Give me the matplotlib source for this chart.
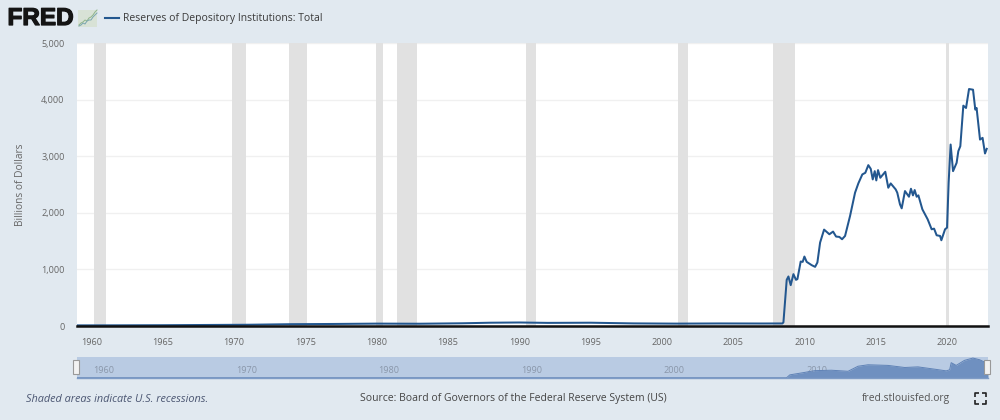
#!/usr/bin/env python
# -*- coding: utf-8 -*-
import matplotlib
matplotlib.use('Agg')
import matplotlib.pyplot as plt
import matplotlib.patheffects as pe
from matplotlib.patches import Rectangle
from matplotlib.transforms import ScaledTranslation

plt.rcParams['font.family'] = ['Open Sans', 'DejaVu Sans']

# values
years = [1959.0, 1962, 1965, 1968, 1971, 1974, 1977, 1980, 1983, 1986, 1988, 1990, 1992, 1995,
         1998, 2001, 2004, 2007, 2008.45,
         2008.52, 2008.75, 2008.87, 2009.03, 2009.22, 2009.40, 2009.50, 2009.73, 2009.87, 2009.99,
         2010.15, 2010.50, 2010.74, 2010.90, 2011.09, 2011.37, 2011.74, 2012.00, 2012.21, 2012.44,
         2012.63, 2012.84, 2013.19, 2013.54, 2013.77, 2014.05, 2014.26, 2014.47, 2014.64, 2014.78,
         2014.92, 2015.03, 2015.15, 2015.31, 2015.66, 2015.87, 2016.04, 2016.39, 2016.50, 2016.69,
         2016.81, 2017.04, 2017.32, 2017.46, 2017.60, 2017.72, 2017.86, 2017.98, 2018.26, 2018.63,
         2018.91, 2019.08, 2019.26, 2019.50, 2019.59, 2019.85, 2019.99, 2020.10, 2020.24, 2020.41,
         2020.66, 2020.78, 2020.92, 2021.13, 2021.32, 2021.53, 2021.81, 2021.97, 2022.06, 2022.30,
         2022.48, 2022.65, 2022.77]
reserves = [11, 12, 14, 18, 22, 32, 36, 42, 40, 48, 58, 62, 55, 58,
            46, 42, 45, 44, 45,
            65, 816, 875, 722, 916, 816, 828, 1139, 1133, 1227,
            1133, 1075, 1045, 1122, 1474, 1703, 1621, 1668, 1580, 1574,
            1533, 1591, 1944, 2355, 2519, 2678, 2707, 2842, 2777, 2590,
            2736, 2572, 2754, 2619, 2725, 2443, 2519, 2413, 2355, 2149,
            2079, 2384, 2284, 2425, 2308, 2402, 2284, 2308, 2061, 1885,
            1709, 1720, 1603, 1591, 1515, 1709, 1738, 2531, 3206, 2736,
            2883, 3089, 3177, 3893, 3852, 4187, 4175, 3823, 3852, 3294,
            3324, 3048, 3130]

# overview strip: height of the area, percent of the strip
nav_years = [1959.0, 2008.6, 2008.74, 2008.97, 2009.78, 2010.72, 2011.89, 2013.05, 2013.75, 2014.45,
             2015.85, 2017.02, 2017.95, 2019.12, 2019.93, 2020.17, 2020.28, 2020.63, 2021.21,
             2021.80, 2022.27, 2022.86]
nav_height = [1, 1, 1, 15, 24, 35, 37, 32, 56, 63, 60, 50, 53, 42, 34, 39, 73, 60, 84, 95, 87, 68]

recession_start = [1960.2, 1969.9, 1973.83, 1979.97, 1981.45, 1990.5, 2001.15, 2007.8, 2019.95]
recession_end = [1961.05, 1970.82, 1975.15, 1980.47, 1982.83, 1991.15, 2001.82, 2009.3, 2020.1]

y_ticks = [0, 1000, 2000, 3000, 4000, 5000]
x_ticks = list(range(1960, 2025, 5))
nav_ticks = [1960, 1970, 1980, 1990, 2000, 2010]
logo_x = [79, 81, 83, 85, 87, 89, 91, 93, 95, 97]
logo_a = [25, 23, 22, 20, 21, 18, 17, 15, 12, 10]
logo_b = [26, 25, 23, 24, 21, 20, 20, 17, 15, 13]

BG = '#e1e9f0'
LINE = '#23578f'
GREY = '#666666'
xlim = (1959.0, 2022.86)

fig = plt.figure(figsize=(10, 4.2), dpi=100, facecolor=BG)


def px_axes(left, top, right, bottom):
    return fig.add_axes([left / 1000, 1 - bottom / 420, (right - left) / 1000, (bottom - top) / 420])


# main panel
ax = px_axes(77, 43, 988, 326)
for start, end in zip(recession_start, recession_end):
    ax.axvspan(start, end, color='#e1e1e1', lw=0, zorder=1)
ax.plot(years, reserves, color=LINE, lw=1.45, zorder=3, solid_joinstyle='round')
ax.set_ylim(0, 5000)
ax.set_yticks(y_ticks)
ax.set_yticklabels(['{:,}'.format(v) for v in y_ticks])
ax.set_xticks(x_ticks)
ax.grid(axis='y', color='#f0f0f0', lw=1, zorder=0)
ax.set_axisbelow(True)
for side in ['top', 'left', 'right']:
    ax.spines[side].set_visible(False)
ax.spines['bottom'].set_color('#111111')
ax.spines['bottom'].set_linewidth(1.8)
ax.spines['bottom'].set_zorder(4)
ax.tick_params(axis='y', length=0, labelsize=6.6, labelcolor=GREY, pad=9)
ax.tick_params(axis='x', length=0, labelsize=6.6, labelcolor=GREY, pad=8.5)
ax.set_xlim(xlim)
ax.set_ylabel('Billions of Dollars', fontsize=7.3, color=GREY, labelpad=11)

# overview strip
nav = px_axes(77, 357, 988, 378)
nav.set_facecolor('#b9cbe3')
nav.fill_between(nav_years, nav_height, 0, color='#6f90c0', lw=0, zorder=2)
nav.plot(nav_years, nav_height, color='#5f82b6', lw=0.7, zorder=2)
nav.set_xlim(xlim)
nav.set_ylim(0, 100)
nav.set_xticks(nav_ticks)
nav.set_yticks([])
nav.tick_params(axis='x', length=0, labelsize=6.6, labelcolor='#8a97aa', pad=-8.5)
for lab in nav.get_xticklabels():
    lab.set_horizontalalignment('left')
    lab.set_zorder(3)
    lab.set_transform(lab.get_transform() + ScaledTranslation(2 / 100, 0, fig.dpi_scale_trans))
for side in ['top', 'left', 'right']:
    nav.spines[side].set_visible(False)
nav.spines['bottom'].set_color('#7f9cc6')
nav.spines['bottom'].set_linewidth(1)

# page furniture in pixel coordinates
over = fig.add_axes([0, 0, 1, 1], facecolor='none')
over.set_xlim(0, 1000)
over.set_ylim(420, 0)
over.axis('off')

over.text(7.5, 18.5, 'FRED', fontsize=17.5, fontweight='bold', family='Liberation Sans', color='#141414',
          va='center', ha='left', path_effects=[pe.withStroke(linewidth=0.9, foreground='#141414')])
over.add_patch(Rectangle((78, 10), 19, 17, color='#d8e2d6', lw=0))
over.plot(logo_x, logo_a, color='#8fb58a', lw=0.7)
over.plot(logo_x, logo_b, color='#7aa6b0', lw=0.7)
over.plot([105, 119], [17.5, 17.5], color=LINE, lw=1.5)
over.text(123, 18, 'Reserves of Depository Institutions: Total', fontsize=7.5, color='#3a3a3a', va='center')

over.text(26, 399, 'Shaded areas indicate U.S. recessions.', fontsize=7.8, style='italic', color='#4b5672',
          va='center')
over.text(360, 399, 'Source: Board of Governors of the Federal Reserve System (US)', fontsize=7.45,
          color='#444444', va='center')
over.text(862, 399, 'fred.stlouisfed.org', fontsize=7.4, color='#555555', va='center')

# navigator handles
for cx in [76, 987]:
    over.add_patch(Rectangle((cx - 3, 360), 6, 14, fc='#f2f2f2', ec='#999999', lw=0.8, zorder=5))

# fullscreen icon
for xs, ys in [([975, 975, 979], [397, 393, 393]), ([982, 986, 986], [393, 393, 397]),
               ([975, 975, 979], [400, 404, 404]), ([982, 986, 986], [404, 404, 400])]:
    over.plot(xs, ys, color='#222222', lw=1.2, solid_capstyle='butt')

fig.savefig('out.png', dpi=100, facecolor=BG)
